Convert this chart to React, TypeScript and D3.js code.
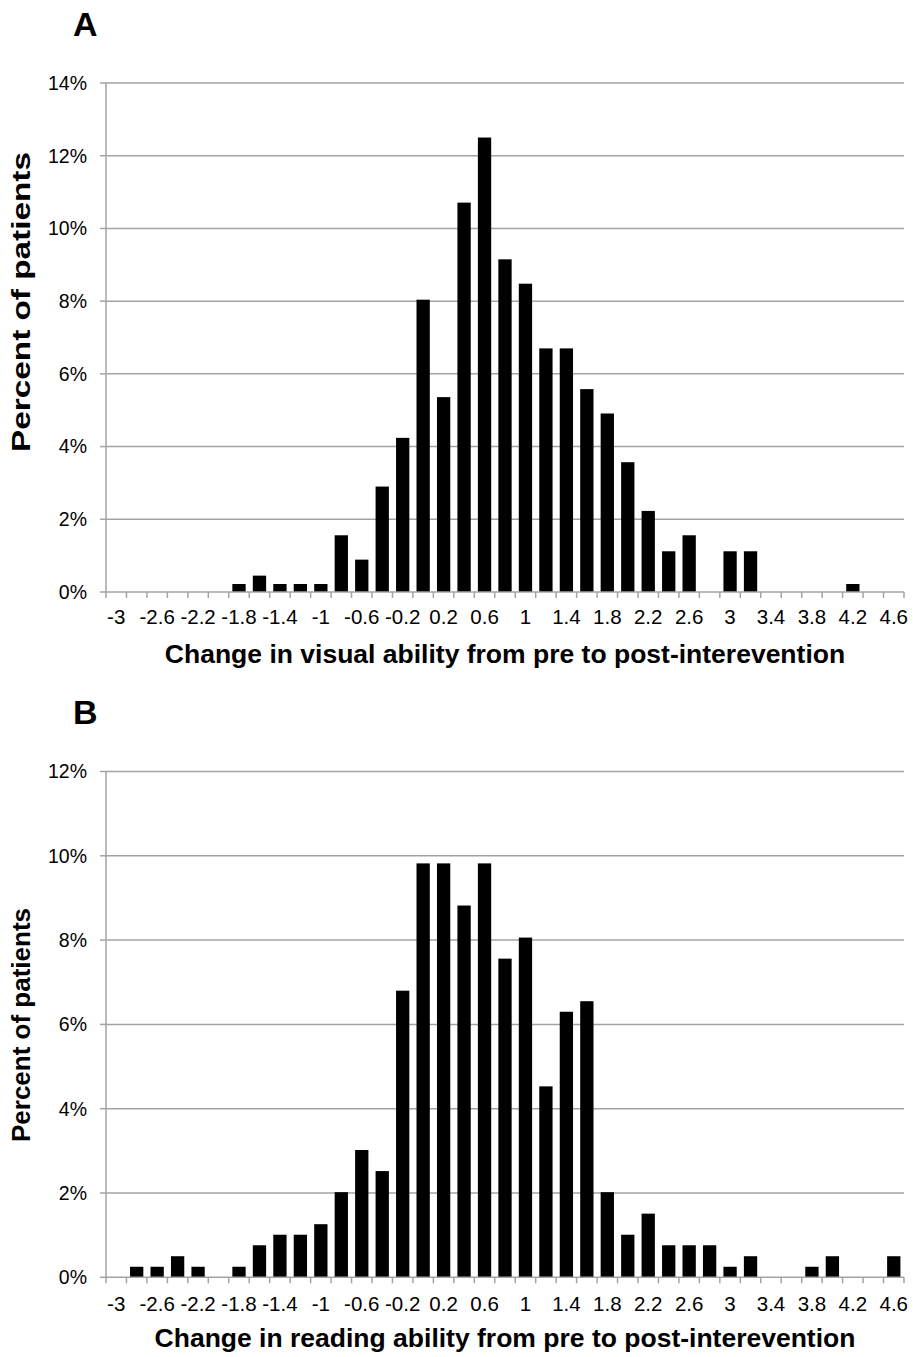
import React from "react";
import * as d3 from "d3";

const categories: string[] = [
  "-3", "-2.8", "-2.6", "-2.4", "-2.2", "-2", "-1.8", "-1.6", "-1.4", "-1.2",
  "-1", "-0.8", "-0.6", "-0.4", "-0.2", "0", "0.2", "0.4", "0.6", "0.8",
  "1", "1.2", "1.4", "1.6", "1.8", "2", "2.2", "2.4", "2.6", "2.8",
  "3", "3.2", "3.4", "3.6", "3.8", "4", "4.2", "4.4", "4.6",
];

const shownTickLabels: string[] = [
  "-3", "-2.6", "-2.2", "-1.8", "-1.4", "-1", "-0.6", "-0.2", "0.2", "0.6",
  "1", "1.4", "1.8", "2.2", "2.6", "3", "3.4", "3.8", "4.2", "4.6",
];

const visualPct: number[] = [
  0, 0, 0, 0, 0, 0, 0.22, 0.45, 0.22, 0.22,
  0.22, 1.56, 0.89, 2.9, 4.24, 8.04, 5.36, 10.71, 12.5, 9.15,
  8.48, 6.7, 6.7, 5.58, 4.91, 3.57, 2.23, 1.12, 1.56, 0,
  1.12, 1.12, 0, 0, 0, 0, 0.22, 0, 0,
];

const readingPct: number[] = [
  0, 0.25, 0.25, 0.5, 0.25, 0, 0.25, 0.76, 1.01, 1.01,
  1.26, 2.02, 3.02, 2.52, 6.8, 9.82, 9.82, 8.82, 9.82, 7.56,
  8.06, 4.53, 6.3, 6.55, 2.02, 1.01, 1.51, 0.76, 0.76, 0.76,
  0.25, 0.5, 0, 0, 0.25, 0.5, 0, 0, 0.5,
];

const visualYTicks: number[] = [0, 2, 4, 6, 8, 10, 12, 14];
const readingYTicks: number[] = [0, 2, 4, 6, 8, 10, 12];

const FONT = "'Liberation Sans', Arial, Helvetica, sans-serif";
const GRID = "#a3a3a3";

type PanelProps = {
  letter: string;
  letterY: number;
  values: number[];
  yTicks: number[];
  top: number;
  bottom: number;
  xTitle: string;
  tickBaselineOffset: number;
  titleBaseline: number;
  yTitleCenter: number;
  yTitleLength?: number;
};

function Panel(p: PanelProps) {
  const left = 106;
  const right = 904;
  const x = d3
    .scaleBand<string>()
    .domain(categories)
    .range([left, right])
    .paddingInner(0.35)
    .paddingOuter(0.175);
  const step = x.step();
  const yMax = p.yTicks[p.yTicks.length - 1];
  const y = d3.scaleLinear().domain([0, yMax]).range([p.bottom, p.top]);
  const boundaries = d3.range(categories.length + 1).map((i) => left + i * step);

  return (
    <g>
      <text x={73} y={p.letterY} fontFamily={FONT} fontWeight="bold" fontSize={34} fill="#000">
        {p.letter}
      </text>
      {p.yTicks.map((t) => (
        <g key={"g" + t}>
          {t > 0 && (
            <line x1={left} x2={right} y1={y(t)} y2={y(t)} stroke={GRID} strokeWidth={1.5} />
          )}
          <line x1={left - 6} x2={left} y1={y(t)} y2={y(t)} stroke={GRID} strokeWidth={1.5} />
          <text
            x={87}
            y={y(t)}
            dy="0.35em"
            textAnchor="end"
            fontFamily={FONT}
            fontSize={19.5}
            fill="#000"
          >
            {t + "%"}
          </text>
        </g>
      ))}
      <line x1={left} x2={left} y1={p.top} y2={p.bottom} stroke={GRID} strokeWidth={1.5} />
      {categories.map((c, i) => (
        <rect
          key={c}
          x={x(c)}
          y={y(p.values[i])}
          width={x.bandwidth()}
          height={p.bottom - y(p.values[i])}
          fill="#000"
        />
      ))}
      <line x1={left} x2={right} y1={p.bottom} y2={p.bottom} stroke={GRID} strokeWidth={1.5} />
      {boundaries.map((bx, i) => (
        <line key={"t" + i} x1={bx} x2={bx} y1={p.bottom} y2={p.bottom + 6} stroke={GRID} strokeWidth={1.5} />
      ))}
      {categories.map((c) =>
        shownTickLabels.includes(c) ? (
          <text
            key={"l" + c}
            x={(x(c) as number) + x.bandwidth() / 2}
            y={p.bottom + p.tickBaselineOffset}
            textAnchor="middle"
            fontFamily={FONT}
            fontSize={20.5}
            fill="#000"
          >
            {c}
          </text>
        ) : null
      )}
      <text
        x={(left + right) / 2}
        y={p.titleBaseline}
        textAnchor="middle"
        fontFamily={FONT}
        fontWeight="bold"
        fontSize={26.5}
        fill="#000"
      >
        {p.xTitle}
      </text>
      <text
        transform={`translate(30,${p.yTitleCenter}) rotate(-90)`}
        textAnchor="middle"
        fontFamily={FONT}
        fontWeight="bold"
        fontSize={26}
        fill="#000"
        {...(p.yTitleLength ? { textLength: p.yTitleLength, lengthAdjust: "spacingAndGlyphs" } : {})}
      >
        Percent of patients
      </text>
    </g>
  );
}

export default function App() {
  return (
    <div style={{ position: "absolute", left: 0, top: 0 }}>
      <svg width={913} height={1357} viewBox="0 0 913 1357" style={{ display: "block", background: "#fff" }}>
        <rect x={0} y={0} width={913} height={1357} fill="#fff" />
        <Panel
          letter="A"
          letterY={36}
          values={visualPct}
          yTicks={visualYTicks}
          top={83}
          bottom={592}
          xTitle="Change in visual ability from pre to post-interevention"
          tickBaselineOffset={32}
          titleBaseline={663}
          yTitleCenter={302}
          yTitleLength={300}
        />
        <Panel
          letter="B"
          letterY={724}
          values={readingPct}
          yTicks={readingYTicks}
          top={771.5}
          bottom={1277.3}
          xTitle="Change in reading ability from pre to post-interevention"
          tickBaselineOffset={34}
          titleBaseline={1347}
          yTitleCenter={1025}
        />
      </svg>
    </div>
  );
}
